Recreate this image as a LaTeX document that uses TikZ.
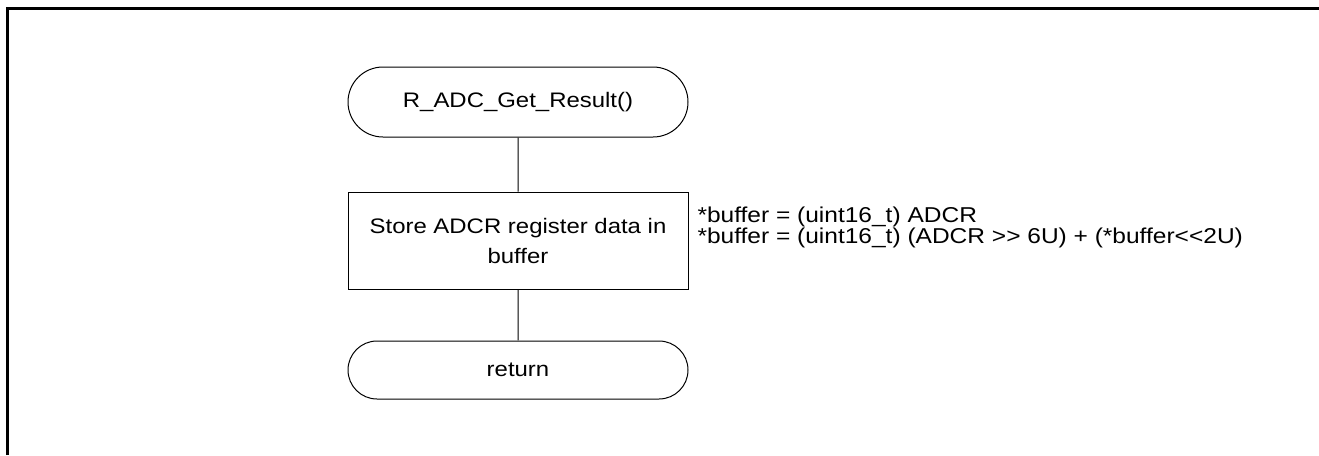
\documentclass[tikz,border=0pt]{standalone}
\usepackage{fontspec}
\setmainfont{Liberation Sans}[FakeStretch=1.14]
\usetikzlibrary{shapes.misc}

\begin{document}
\begin{tikzpicture}[x=1pt,y=-1pt,line width=1,font=\fontsize{21}{21}\selectfont,
		term/.style={draw,rounded rectangle,minimum width=340,inner sep=0},
		proc/.style={draw,rectangle,minimum width=340,minimum height=97,inner sep=0,align=center}]
				\useasboundingbox (0,0) rectangle (1319,455);
				\draw [line width=2.8] (7.2,455) -- (7.2,8.7) -- (1319,8.7);
				\node[term,minimum height=70] (start) at (518,102) {R\_ADC\_Get\_Result()};
				\node[proc,font=\fontsize{21}{30}\selectfont] (store) at (518,240.5) {Store ADCR register data in\\buffer};
				\node[term,minimum height=58] (ret) at (518,370) {return};
				\node[anchor=west,inner sep=0,align=left,font=\fontsize{21.5}{21}\selectfont] (note) at (697,227.4)
					{*buffer = (uint16\_t) ADCR\\*buffer = (uint16\_t) (ADCR >{}> 6U) + (*buffer<{}<2U)};
				\draw (start) -- (store);
				\draw (store) -- (ret);
			\end{tikzpicture}
\end{document}
